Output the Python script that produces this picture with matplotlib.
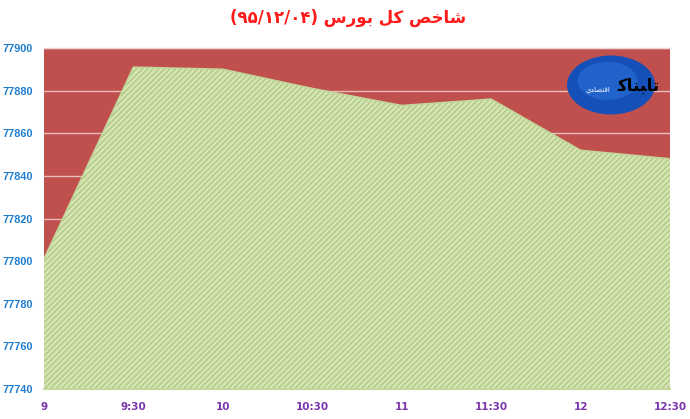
import matplotlib
matplotlib.use("Agg")
import matplotlib.pyplot as plt
from matplotlib.patches import Ellipse

# ---- data ----
categories = ["9", "9:30", "10", "10:30", "11", "11:30", "12", "12:30"]
values = [77801, 77891, 77890, 77881, 77873, 77876, 77852, 77848]
y_ticks = [77740, 77760, 77780, 77800, 77820, 77840, 77860, 77880, 77900]
# Title "شاخص کل بورس (۹۵/۱۲/۰۴)" written in visual (shaped, LTR) order
title_text = "(\u06F9\u06F5/\u06F1\u06F2/\u06F0\u06F4) " \
             "\uFEB1\uFEAD\uFEEE\uFE91 \uFEDE\uFEDB \uFEBA\uFEA7\uFE8E\uFEB7"
logo_main = "\uFEDB\uFE8E\uFEE8\uFE92\uFE8E\uFE97"      # تابناک (visual order)
logo_sub = "\uFEF1\uFEAA\uFE8E\uFEBC\uFE98\uFED7\uFE8D"   # اقتصادی (visual order)

plt.rcParams["hatch.linewidth"] = 1.0

W, H = 690, 419
fig = plt.figure(figsize=(W / 100, H / 100), dpi=100)
fig.patch.set_facecolor("white")

left, right, top, bottom = 44, 670, 48, 389
ax = fig.add_axes([left / W, 1 - bottom / H, (right - left) / W, (bottom - top) / H])
ax.set_facecolor("#c0504d")

x = list(range(len(categories)))
ax.fill_between(x, values, y_ticks[0], facecolor="#d6e4b8", edgecolor="#afcb7c",
                hatch="//////", linewidth=0, zorder=3)
ax.plot(x, values, color="#c3d69b", linewidth=1.2, zorder=4)
ax.plot([x[0], x[-1]], [y_ticks[0], y_ticks[0]], color="#c3d69b", linewidth=1.5, zorder=4,
        clip_on=False)

ax.set_xlim(x[0], x[-1])
ax.set_ylim(y_ticks[0], y_ticks[-1])
ax.set_yticks(y_ticks)
ax.set_xticks(x)
ax.set_xticklabels(categories)
ax.grid(axis="y", color="#e8bcbb", linewidth=1.0, zorder=1)
ax.set_axisbelow(True)
for s in ax.spines.values():
    s.set_visible(False)
ax.tick_params(length=0)
ax.tick_params(axis="y", pad=8)
ax.tick_params(axis="x", pad=9)
for lbl in ax.get_yticklabels():
    lbl.set_fontfamily("Liberation Sans")
    lbl.set_fontweight("bold")
    lbl.set_fontsize(7.8)
    lbl.set_color("#1f7dd0")
for lbl in ax.get_xticklabels():
    lbl.set_fontfamily("DejaVu Sans")
    lbl.set_fontweight("bold")
    lbl.set_fontsize(7.5)
    lbl.set_color("#7a35ad")

# top border line of plot area
ax.axhline(y_ticks[-1], color="#f0d0d0", linewidth=1.0, zorder=2, clip_on=False)

# title
fig.text(348 / W, 1 - 18 / H, title_text, ha="center", va="center",
         fontsize=12, fontweight="bold", color="#ff1a1a", family="DejaVu Sans")

# logo (decorative)
cx, cy = 611, 85
e = Ellipse((cx / W, 1 - cy / H), 88 / W, 59 / H, transform=fig.transFigure,
            facecolor="#1550b8", edgecolor="none", zorder=10)
fig.patches.append(e)
e2 = Ellipse((cx / W - 0.005, 1 - (cy - 4) / H), 60 / W, 38 / H, transform=fig.transFigure,
             facecolor="#2a6fd8", edgecolor="none", alpha=0.6, zorder=11)
fig.patches.append(e2)
fig.text(638 / W, 1 - 86 / H, logo_main, ha="center", va="center", fontsize=12,
         fontweight="bold", color="black", family="DejaVu Sans", zorder=12)
fig.text(598 / W, 1 - 90 / H, logo_sub, ha="center", va="center", fontsize=5,
         color="white", family="DejaVu Sans", zorder=12)

fig.savefig("out.png", dpi=100)
